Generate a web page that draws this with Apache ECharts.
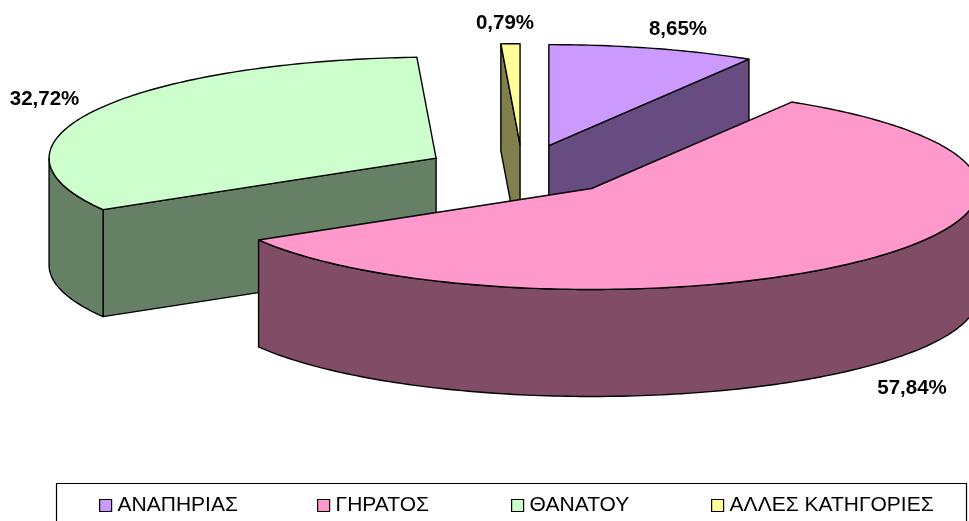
<!DOCTYPE html>
<html>
<head>
<meta charset="utf-8">
<script src="https://cdn.jsdelivr.net/npm/echarts@6/dist/echarts.min.js"></script>
<style>
  html, body { margin: 0; padding: 0; background: #fff; }
  #chart { width: 969px; height: 521px; }
</style>
</head>
<body>
<div id="chart"></div>
<script>
// data
const categories = ['ΑΝΑΠΗΡΙΑΣ', 'ΓΗΡΑΤΟΣ', 'ΘΑΝΑΤΟΥ', 'ΑΛΛΕΣ ΚΑΤΗΓΟΡΙΕΣ']
const shares = [8.65, 57.84, 32.72, 0.79]

// colours
const topColors = ['#CC99FF', '#FF99CC', '#CCFFCC', '#FFFF99']
const sideColors = ['#664C80', '#804C66', '#668066', '#80804C']

// 3d pie layout
const pie = { cx: 522.5, cy: 170.3, rx: 387, ry: 101, depth: 107, explode: 0.2535 }
const labelCenters = [[678, 29], [505, 23], [44.5, 99], [912, 388]]
const labelSlots = [0, 3, 2, 1]
const legendLefts = [99, 317, 511, 711]

const toRad = Math.PI / 180
const total = shares.reduce((a, b) => a + b, 0)

// sweep of each slice, clockwise from 12 o'clock
let cum = -90
const sweeps = shares.map(v => {
  const a0 = cum
  cum += v / total * 360
  return [a0, cum]
})

function sliceGeom(i) {
  const [a0, a1] = sweeps[i]
  const mid = (a0 + a1) / 2 * toRad
  const cx = pie.cx + pie.rx * pie.explode * Math.cos(mid)
  const cy = pie.cy + pie.ry * pie.explode * Math.sin(mid)
  const at = (deg, drop = 0) => [
    cx + pie.rx * Math.cos(deg * toRad),
    cy + pie.ry * Math.sin(deg * toRad) + drop
  ]
  return { a0, a1, cx, cy, at }
}

function arc(at, from, to, drop = 0) {
  const pts = []
  const n = Math.max(1, Math.ceil(Math.abs(to - from)))
  for (let k = 0; k <= n; k++) pts.push(at(from + (to - from) * k / n, drop))
  return pts
}

function renderSlice(i) {
  const { a0, a1, cx, cy, at } = sliceGeom(i)
  const d = pie.depth
  const line = { stroke: '#000', lineWidth: 1.4, lineJoin: 'round' }
  const side = { fill: sideColors[i], ...line }
  const children = []
  const face = deg => ({
    type: 'polygon',
    shape: { points: [[cx, cy], at(deg), at(deg, d), [cx, cy + d]] },
    style: side
  })
  // only the cut faces turned toward the viewer
  if (Math.cos(a0 * toRad) < -1e-6) children.push(face(a0))
  if (Math.cos(a1 * toRad) > 1e-6) children.push(face(a1))
  // outer wall, lower half of the ellipse only
  const lo = Math.max(a0, 0)
  const hi = Math.min(a1, 180)
  if (hi > lo) {
    children.push({
      type: 'polygon',
      shape: { points: arc(at, lo, hi).concat(arc(at, hi, lo, d)) },
      style: side
    })
  }
  children.push({
    type: 'polygon',
    shape: { points: [[cx, cy]].concat(arc(at, a0, a1)) },
    style: { fill: topColors[i], ...line }
  })
  const lab = labelCenters[labelSlots[i]]
  children.push({
    type: 'text',
    style: {
      text: shares[i].toFixed(2).replace('.', ',') + '%',
      x: lab[0],
      y: lab[1],
      fill: '#000',
      align: 'center',
      verticalAlign: 'middle',
      font: 'bold 20.5px "Liberation Sans", Arial, sans-serif'
    }
  })
  return { type: 'group', children }
}

// back slices first
const depthRank = shares
  .map((_, i) => i)
  .sort((p, q) => {
    const s = i => Math.sin((sweeps[i][0] + sweeps[i][1]) / 2 * toRad)
    return s(p) - s(q)
  })

const chart = echarts.init(document.getElementById('chart'), null, { renderer: 'canvas' })
chart.setOption({
  animation: false,
  backgroundColor: '#fff',
  graphic: [{
    type: 'rect',
    z: 0,
    shape: { x: 56.5, y: 483.5, width: 910, height: 60 },
    style: { fill: '#fff', stroke: '#000', lineWidth: 1.2 }
  }],
  legend: categories.map((name, i) => ({
    data: [name],
    left: legendLefts[i],
    top: 495,
    padding: 0,
    icon: 'rect',
    itemWidth: 12,
    itemHeight: 12,
    itemStyle: { borderColor: '#000', borderWidth: 1.2 },
    selectedMode: false,
    textStyle: { fontFamily: '"Liberation Sans", Arial, sans-serif', fontSize: 21, color: '#000', padding: [0, 0, 0, 1] }
  })),
  series: categories.map((name, i) => ({
    type: 'custom',
    name,
    coordinateSystem: 'none',
    z: 2 + depthRank.indexOf(i),
    silent: true,
    itemStyle: { color: topColors[i], borderColor: '#000', borderWidth: 1 },
    data: [shares[i]],
    renderItem: () => renderSlice(i)
  }))
})
</script>
</body>
</html>
